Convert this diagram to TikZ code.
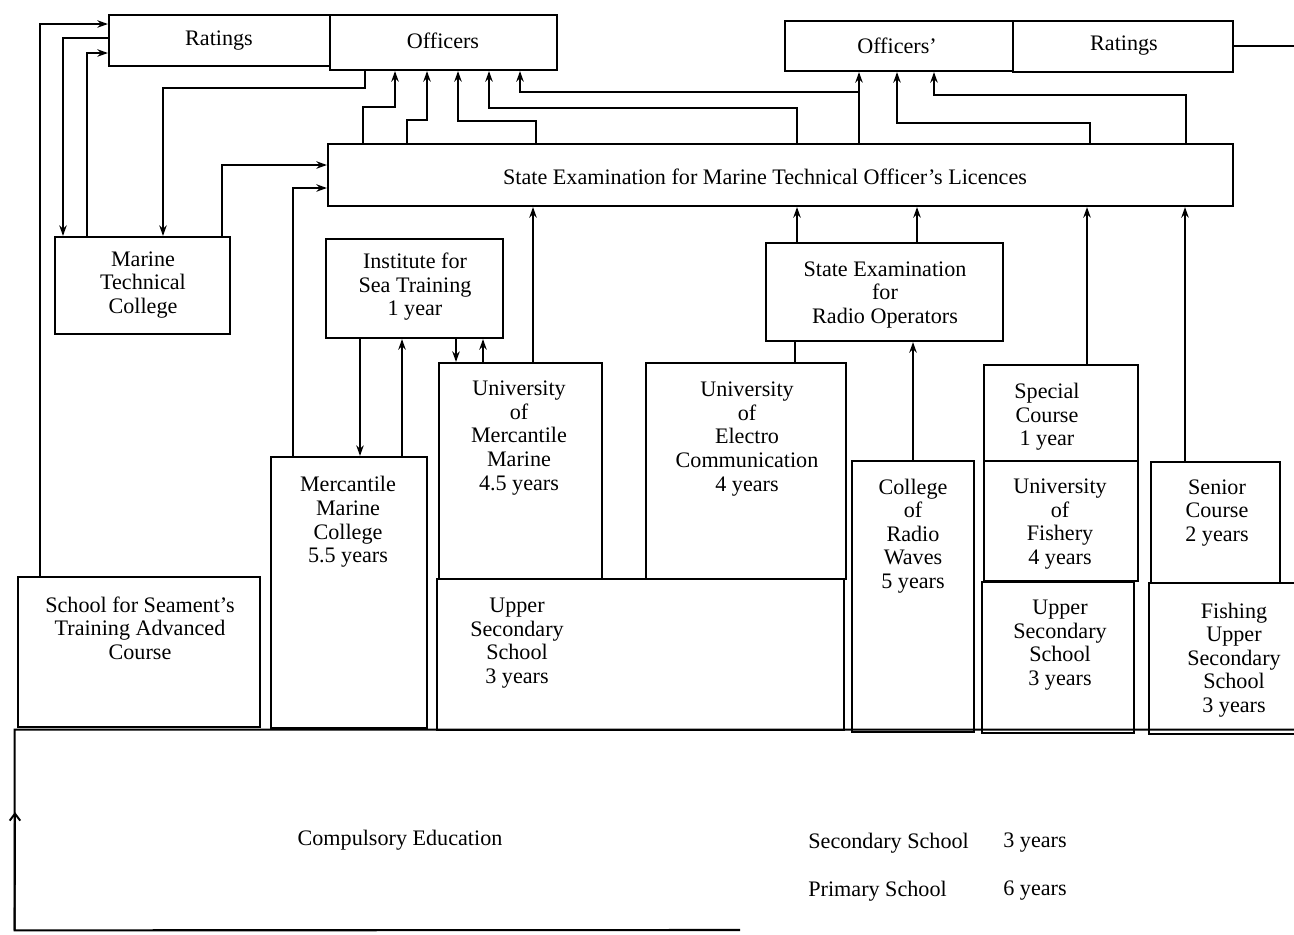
\documentclass[tikz,border=0pt]{standalone}
\usepackage{fontspec}
\setmainfont{Liberation Serif}
\usetikzlibrary{arrows.meta,fit}
\begin{document}
\begin{tikzpicture}[x=0.02cm,y=-0.02cm,
  box/.style={draw, line width=1.2pt, inner sep=0pt},
  txt/.style={font=\fontsize{12.6}{13.4}\selectfont, align=center, inner sep=0pt},
  ln/.style={line width=1.1pt},
  arr/.style={ln, -{Stealth[length=6pt,width=4.2pt]}},
  barb/.style={ln, -{Straight Barb[length=4pt,width=6pt]}}]
\useasboundingbox (0,0) rectangle (1294,934);
\clip (0,0) rectangle (1294,934);

% ---------- boxes ----------
\node[box, fit={(109,15) (330,66)}] (ratL) {};
\node[box, fit={(330,15) (557,70)}] (offL) {};
\node[box, fit={(785,21) (1013,71)}] (offR) {};
\node[box, fit={(1013,21) (1233,72)}] (ratR) {};
\node[box, fit={(328,144) (1233,206)}] (se) {};
\node[box, fit={(55,237) (230,334)}] (mtc) {};
\node[box, fit={(326,239) (503,338)}] (ist) {};
\node[box, fit={(766,243) (1003,341)}] (rop) {};
\node[box, fit={(439,363) (602,579)}] (univM) {};
\node[box, fit={(646,363) (846,579)}] (elec) {};
\node[box, fit={(984,365) (1138,461)}] (spc) {};
\node[box, fit={(984,461) (1138,581)}] (fish) {};
\node[box, fit={(271,457) (427,728)}] (mmc) {};
\node[box, fit={(852,461) (974,732)}] (crw) {};
\node[box, fit={(1151,462) (1280,583)}] (sen) {};
\node[box, fit={(18,577) (260,727)}] (sch) {};
\node[box, fit={(437,579) (844,730)}] (usM) {};
\node[box, fit={(982,582) (1134,733)}] (usR) {};
\node[box, fit={(1149,583) (1320,734)}] (fus) {};
\node[inner sep=0pt, fit={(15,730) (1300,930)}] (comp) {};
\draw[line width=1.2pt] (comp.north east) -- (comp.north west) -- (comp.south west) -- (740,930);

% ---------- texts ----------
\node[txt] at (219,41) {Ratings};
\node[txt] at (443,41) {Officers};
\node[txt] at (897,46) {Officers'};
\node[txt] at (1124,46) {Ratings};
\node[txt] at (765,177) {State Examination for Marine Technical Officer's Licences};
\node[txt] at (143,285) {Marine\\Technical\\College};
\node[txt] at (415,287) {Institute for\\Sea Training\\1 year};
\node[txt] at (885,295) {State Examination\\for\\Radio Operators};
\node[txt] at (519,438) {University\\of\\Mercantile\\Marine\\4.5 years};
\node[txt] at (747,439) {University\\of\\Electro\\Communication\\4 years};
\node[txt] at (1047,417) {Special\\Course\\1 year};
\node[txt] at (1060,524) {University\\of\\Fishery\\4 years};
\node[txt] at (348,522) {Mercantile\\Marine\\College\\5.5 years};
\node[txt] at (913,536) {College\\of\\Radio\\Waves\\5 years};
\node[txt] at (1217,513) {Senior\\Course\\2 years};
\node[txt] at (140,628) {School for Seament's\\Training Advanced\\Course};
\node[txt] at (517,643) {Upper\\Secondary\\School\\3 years};
\node[txt] at (1060,645) {Upper\\Secondary\\School\\3 years};
\node[txt] at (1234,660) {Fishing\\Upper\\Secondary\\School\\3 years};
\node[txt] at (400,840) {Compulsory Education};
\node[txt, anchor=west] at (808,843) {Secondary School};
\node[txt, anchor=west] at (1003,843) {3 years};
\node[txt, anchor=west] at (808,891) {Primary School};
\node[txt, anchor=west] at (1003,891) {6 years};

% ---------- connectors, left side ----------
\draw[arr] (sch.north -| 40,0) |- (ratL.west |- 0,24);
\draw[arr] (ratL.west |- 0,38) -| (mtc.north -| 63,0);
\draw[arr] (mtc.north -| 87,0) |- (ratL.west |- 0,53);
\draw[arr] (offL.south -| 365,0) -- (365,88) -| (mtc.north -| 163,0);
\draw[arr] (mtc.north -| 222,0) |- (se.west |- 0,165);
\draw[arr] (mmc.north -| 293,0) |- (se.west |- 0,188);
\draw[arr] (ist.south -| 360,0) -- (mmc.north -| 360,0);
\draw[arr] (mmc.north -| 402,0) -- (ist.south -| 402,0);
\draw[arr] (ist.south -| 456,0) -- (univM.north -| 456,0);
\draw[arr] (univM.north -| 483,0) -- (ist.south -| 483,0);
\draw[arr] (univM.north -| 533,0) -- (se.south -| 533,0);

% ---------- state exam to officers ----------
\draw[arr] (se.north -| 363,0) |- (395,107) -- (offL.south -| 395,0);
\draw[arr] (se.north -| 407,0) |- (427,120) -- (offL.south -| 427,0);
\draw[arr] (se.north -| 536,0) |- (458,121) -- (offL.south -| 458,0);
\draw[arr] (se.north -| 797,0) |- (489,108) -- (offL.south -| 489,0);
\draw[arr] (se.north -| 859,0) -- (offR.south -| 859,0);
\coordinate (j) at (859,92);
\draw[arr] (j) -| (offL.south -| 520,0);
\draw[arr] (se.north -| 1090,0) |- (897,123) -- (offR.south -| 897,0);
\draw[arr] (se.north -| 1186,0) |- (934,95) -- (offR.south -| 934,0);
\coordinate (rend) at (1294,46);
\draw[ln] (ratR.east |- rend) -- (rend);

% ---------- radio and right side ----------
\draw[ln] (elec.north -| 795,0) -- (rop.south -| 795,0);
\draw[arr] (crw.north -| 913,0) -- (rop.south -| 913,0);
\draw[arr] (rop.north -| 797,0) -- (se.south -| 797,0);
\draw[arr] (rop.north -| 917,0) -- (se.south -| 917,0);
\draw[arr] (spc.north -| 1087,0) -- (se.south -| 1087,0);
\draw[arr] (sen.north -| 1185,0) -- (se.south -| 1185,0);

% ---------- arrow mark on compulsory education ----------
\draw[barb] (comp.south west) -- (15,812);
\end{tikzpicture}
\end{document}
